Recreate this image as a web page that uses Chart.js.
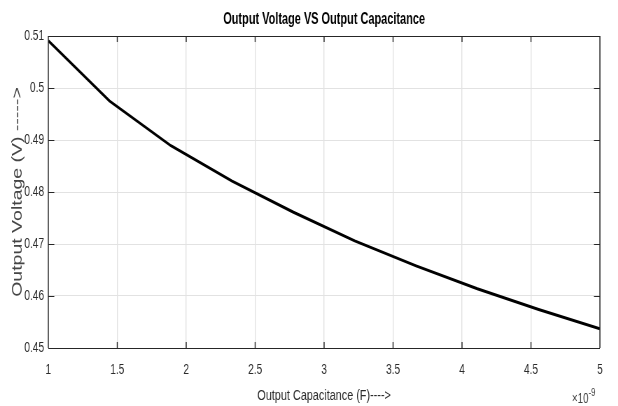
<!DOCTYPE html>
<html>
<head>
<meta charset="utf-8">
<script src="https://cdn.jsdelivr.net/npm/chart.js@4/dist/chart.umd.min.js"></script>
<style>
  html, body { margin: 0; padding: 0; background: #ffffff; overflow: hidden; }
  /* the figure is laid out wide and then narrowed, giving condensed lettering */
  #wrap { width: 883px; height: 406px; transform: scaleX(0.7); transform-origin: 0 0; }
</style>
</head>
<body>
<div id="wrap"><canvas id="c" width="883" height="406"></canvas></div>
<script>
// Output capacitance (in units of 1e-9 F) and measured output voltage (V)
const capacitance = [1, 1.444, 1.889, 2.333, 2.778, 3.222, 3.667, 4.111, 4.556, 5];
const voltage = [0.5091, 0.4975, 0.4889, 0.4821, 0.4761, 0.4706, 0.4658, 0.4614, 0.4574, 0.4537];

// Axis tick positions
const xTicks = [1, 1.5, 2, 2.5, 3, 3.5, 4, 4.5, 5];
const yTicks = [0.45, 0.46, 0.47, 0.48, 0.49, 0.5, 0.51];

const chartTitle = 'Output Voltage VS Output Capacitance';

const points = capacitance.map((c, i) => ({ x: c, y: voltage[i] }));

const SANS = "'Liberation Sans', Arial, Helvetica, sans-serif";
const AXIS_COLOR = '#262626';
const GRID_COLOR = '#e2e2e2';
const SQUEEZE = 0.7;          // horizontal narrowing applied to the whole figure
const VLINE = 1 / SQUEEZE;    // keeps vertical strokes about 1px wide after narrowing

// Title centred over the plot area, in a tighter bold face
const plotTitle = {
  id: 'plotTitle',
  afterDraw(chart) {
    const { ctx, chartArea: a } = chart;
    ctx.save();
    ctx.fillStyle = '#000000';
    ctx.font = "bold 17px " + SANS;
    ctx.textAlign = 'center';
    ctx.textBaseline = 'middle';
    ctx.translate((a.left + a.right) / 2, a.top / 2 + 1);
    ctx.scale(0.92, 1);
    ctx.fillText(chartTitle, 0, 0);
    ctx.restore();
  }
};

// Box around the axes, inward tick marks and the x exponent label
const boxAndTicks = {
  id: 'boxAndTicks',
  afterDatasetsDraw(chart) {
    const { ctx, chartArea: a, scales } = chart;
    const vLen = 6;            // length of ticks on top / bottom
    const hLen = 6 / SQUEEZE;  // length of ticks on left / right
    ctx.save();
    ctx.strokeStyle = AXIS_COLOR;

    // vertical strokes: x ticks and the left / right edges
    ctx.lineWidth = VLINE;
    ctx.beginPath();
    scales.x.ticks.forEach(t => {
      const px = scales.x.getPixelForValue(t.value);
      ctx.moveTo(px, a.bottom); ctx.lineTo(px, a.bottom - vLen);
      ctx.moveTo(px, a.top); ctx.lineTo(px, a.top + vLen);
    });
    ctx.moveTo(a.left, a.top); ctx.lineTo(a.left, a.bottom);
    ctx.moveTo(a.right, a.top); ctx.lineTo(a.right, a.bottom);
    ctx.stroke();

    // horizontal strokes: y ticks and the top / bottom edges
    ctx.lineWidth = 1;
    ctx.beginPath();
    scales.y.ticks.forEach(t => {
      const py = Math.round(scales.y.getPixelForValue(t.value)) + 0.5;
      ctx.moveTo(a.left, py); ctx.lineTo(a.left + hLen, py);
      ctx.moveTo(a.right, py); ctx.lineTo(a.right - hLen, py);
    });
    const top = Math.round(a.top) + 0.5, bottom = Math.round(a.bottom) + 0.5;
    ctx.moveTo(a.left, top); ctx.lineTo(a.right, top);
    ctx.moveTo(a.left, bottom); ctx.lineTo(a.right, bottom);
    ctx.stroke();

    // exponent of the x axis
    ctx.fillStyle = '#404040';
    ctx.textBaseline = 'alphabetic';
    ctx.textAlign = 'left';
    ctx.font = "14px " + SANS;
    const bx = a.right - 40;
    const by = chart.height - 3;
    ctx.fillText('\u00d710', bx, by);
    const w = ctx.measureText('\u00d710').width;
    ctx.font = "11px " + SANS;
    ctx.fillText('-9', bx + w, by - 7);
    ctx.restore();
  }
};

new Chart(document.getElementById('c'), {
  type: 'line',
  data: {
    datasets: [{
      data: points,
      borderColor: '#000000',
      borderWidth: 3,
      pointRadius: 0,
      tension: 0,
      fill: false
    }]
  },
  options: {
    responsive: false,
    animation: false,
    devicePixelRatio: 1,
    layout: { padding: { left: 0, right: 26, top: 36, bottom: 0 } },
    plugins: {
      legend: { display: false },
      tooltip: { enabled: false },
      title: { display: false }
    },
    scales: {
      x: {
        type: 'linear',
        min: 1,
        max: 5,
        afterBuildTicks: s => { s.ticks = xTicks.map(v => ({ value: v })); },
        afterFit: s => { s.height = 58; },
        grid: { color: GRID_COLOR, lineWidth: VLINE, drawTicks: false },
        border: { display: false },
        ticks: {
          color: '#2b2b2b',
          font: { family: SANS, size: 14.5 },
          padding: 13,
          maxRotation: 0,
          callback: v => String(v)
        },
        title: {
          display: true,
          text: 'Output Capacitance (F)---->',
          color: '#2b2b2b',
          font: { family: SANS, size: 15.5 },
          padding: { top: 0, bottom: 1 }
        }
      },
      y: {
        type: 'linear',
        min: 0.45,
        max: 0.51,
        afterBuildTicks: s => { s.ticks = yTicks.map(v => ({ value: v })); },
        afterFit: s => { s.width = 69; },
        grid: { color: GRID_COLOR, drawTicks: false },
        border: { display: false },
        ticks: {
          color: '#2b2b2b',
          font: { family: SANS, size: 14.5 },
          padding: 6,
          callback: v => String(Math.round(v * 100) / 100)
        },
        title: {
          display: true,
          text: 'Output Voltage (V) ----->',
          color: '#454545',
          font: { family: SANS, size: 19.5 },
          padding: { top: 14, bottom: 0 }
        }
      }
    }
  },
  plugins: [boxAndTicks, plotTitle]
});
</script>
</body>
</html>
